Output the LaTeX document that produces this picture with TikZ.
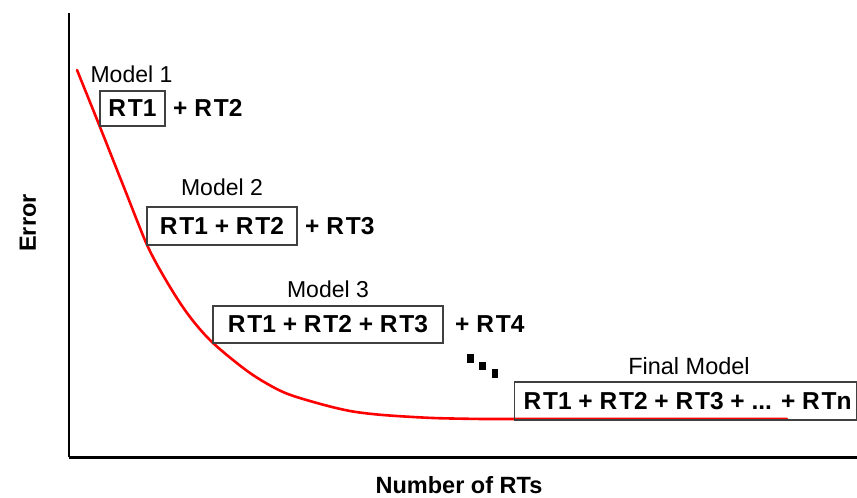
\documentclass[tikz,border=0pt]{standalone}
\usepackage{fontspec}
\setmainfont{Liberation Sans}
\newcommand{\RTx}{R\kern1.8pt T}
\begin{document}
\begin{tikzpicture}[x=1pt,y=-1pt,
  rtbox/.style={draw=black!75,line width=1.2pt,inner sep=0pt,
    font=\fontsize{24.5}{28}\selectfont\bfseries},
  rttext/.style={inner sep=0pt,anchor=west,font=\fontsize{24.5}{28}\selectfont\bfseries},
  mlabel/.style={inner sep=0pt,font=\fontsize{23}{27}\selectfont},
  axislabel/.style={inner sep=0pt,font=\fontsize{23.5}{27}\selectfont\bfseries},
  curve/.style={red,line width=2.6pt,line join=round,line cap=round},
  dotsq/.style={fill=black,draw=none}]
\useasboundingbox (0,0) rectangle (857,498);

% axes
\coordinate (top) at (69,13);
\coordinate (origin) at (69,457);
\coordinate (right) at (857,457);
\draw[line width=2.4pt] (top) -- (origin);
\draw[line width=3pt] (origin) -- (right);

% axis labels
\node[axislabel,rotate=90] (ylab) at (28,223) {Error};
\node[axislabel] (xlab) at (459,485) {Number of RTs};

% error curve
\draw[curve] plot[smooth,tension=0.5] coordinates {
  (77,70) (100,127) (125,190) (148,247) (170,287) (190,317) (213,343)
  (250,373) (283,392) (317,403) (350,411) (383,415) (433,418) (483,419)}
  -- (787,419);

% Model 1
\node[mlabel] (m1lab) at (131.5,74) {Model 1};
\node[rtbox,minimum width=65pt,minimum height=35pt] (m1) at (132.5,108.5) {\RTx1};
\node[rttext] (p1) at (173,108) {+ \RTx2};

% Model 2
\node[mlabel] (m2lab) at (222,187) {Model 2};
\node[rtbox,minimum width=150pt,minimum height=38pt] (m2) at (222,226) {\RTx1 + \RTx2\hspace{10pt}};
\node[rttext] (p2) at (305,226) {+ \RTx3};

% Model 3
\node[mlabel] (m3lab) at (328,289) {Model 3};
\node[rtbox,minimum width=230pt,minimum height=37pt] (m3) at (328,324.5) {\RTx1 + \RTx2 + \RTx3\hspace{6pt}};
\node[rttext] (p3) at (455,324) {+ \RTx4};

% dots
\fill[dotsq] (467,354) rectangle (474,363);
\fill[dotsq] (479,362) rectangle (486,370);
\fill[dotsq] (492,369) rectangle (498,378);

% Final model
\node[mlabel,font=\fontsize{23.5}{27}\selectfont] (m4lab) at (689,366) {Final Model};
\node[rtbox,minimum width=342pt,minimum height=38pt,anchor=west] (m4) at (513.5,401) {\hspace{5pt}\RTx1 + \RTx2 + \RTx3 + ... + \RTx n\hfill};
\end{tikzpicture}
\end{document}
